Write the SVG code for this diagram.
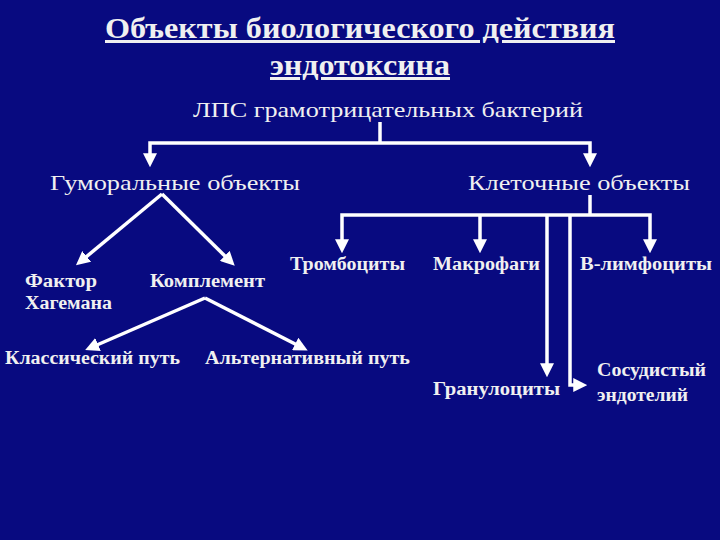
<svg xmlns="http://www.w3.org/2000/svg" width="720" height="540" viewBox="0 0 720 540">
<defs>
<marker id="ah" markerWidth="4" markerHeight="4" refX="2.5" refY="2" orient="auto-start-reverse" markerUnits="strokeWidth"><path d="M0,0 L4,2 L0,4 Z" fill="#ffffff"/></marker>
<style>
text{font-family:"Liberation Serif",serif;fill:#f0f0f0;}
.t{font-size:30px;font-weight:bold;text-decoration:underline;}
.h{font-size:22px;}
.n{font-size:18px;font-weight:bold;}
.c line,.c path{stroke:#ffffff;stroke-width:3.5;fill:none;}
</style>
</defs>
<rect width="720" height="540" fill="#080a80"/>
<g id="title"><text class="t" x="105" y="38" textLength="510" lengthAdjust="spacingAndGlyphs">Объекты биологического действия</text><text class="t" x="270" y="75" textLength="180" lengthAdjust="spacingAndGlyphs">эндотоксина</text></g>
<g id="lps"><text class="h" x="193" y="117" textLength="390" lengthAdjust="spacingAndGlyphs">ЛПС грамотрицательных бактерий</text></g>
<g id="hum"><text class="h" x="50" y="190" textLength="250" lengthAdjust="spacingAndGlyphs">Гуморальные объекты</text></g>
<g id="cell"><text class="h" x="468" y="190" textLength="222" lengthAdjust="spacingAndGlyphs">Клеточные объекты</text></g>
<g id="factor"><text class="n" x="25" y="287" textLength="72" lengthAdjust="spacingAndGlyphs">Фактор</text><text class="n" x="25" y="309" textLength="87" lengthAdjust="spacingAndGlyphs">Хагемана</text></g>
<g id="compl"><text class="n" x="150" y="287" textLength="115" lengthAdjust="spacingAndGlyphs">Комплемент</text></g>
<g id="classic"><text class="n" x="5" y="364" textLength="175" lengthAdjust="spacingAndGlyphs">Классический путь</text></g>
<g id="alt"><text class="n" x="205" y="364" textLength="205" lengthAdjust="spacingAndGlyphs">Альтернативный путь</text></g>
<g id="thromb"><text class="n" x="290" y="270" textLength="115" lengthAdjust="spacingAndGlyphs">Тромбоциты</text></g>
<g id="macro"><text class="n" x="433" y="270" textLength="107" lengthAdjust="spacingAndGlyphs">Макрофаги</text></g>
<g id="blym"><text class="n" x="580" y="270" textLength="132" lengthAdjust="spacingAndGlyphs">В-лимфоциты</text></g>
<g id="gran"><text class="n" x="433" y="395" textLength="127" lengthAdjust="spacingAndGlyphs">Гранулоциты</text></g>
<g id="endo"><text class="n" x="597" y="376" textLength="109" lengthAdjust="spacingAndGlyphs">Сосудистый</text><text class="n" x="597" y="401" textLength="91" lengthAdjust="spacingAndGlyphs">эндотелий</text></g>
<g class="c" id="connectors">
<line x1="380" y1="122" x2="380" y2="143"/>
<path d="M150,162 V143 H590 V162" marker-start="url(#ah)" marker-end="url(#ah)"/>
<line x1="162" y1="194" x2="80" y2="262" marker-end="url(#ah)"/>
<line x1="162" y1="194" x2="231" y2="262" marker-end="url(#ah)"/>
<line x1="590" y1="195" x2="590" y2="215"/>
<path d="M342,248 V215 H650 V248" marker-start="url(#ah)" marker-end="url(#ah)"/>
<line x1="480" y1="215" x2="480" y2="248" marker-end="url(#ah)"/>
<line x1="547" y1="215" x2="547" y2="372" marker-end="url(#ah)"/>
<path d="M570,215 V385 H582" marker-end="url(#ah)"/>
<line x1="205" y1="298" x2="90" y2="348" marker-end="url(#ah)"/>
<line x1="205" y1="298" x2="303" y2="348" marker-end="url(#ah)"/>
</g>
</svg>
